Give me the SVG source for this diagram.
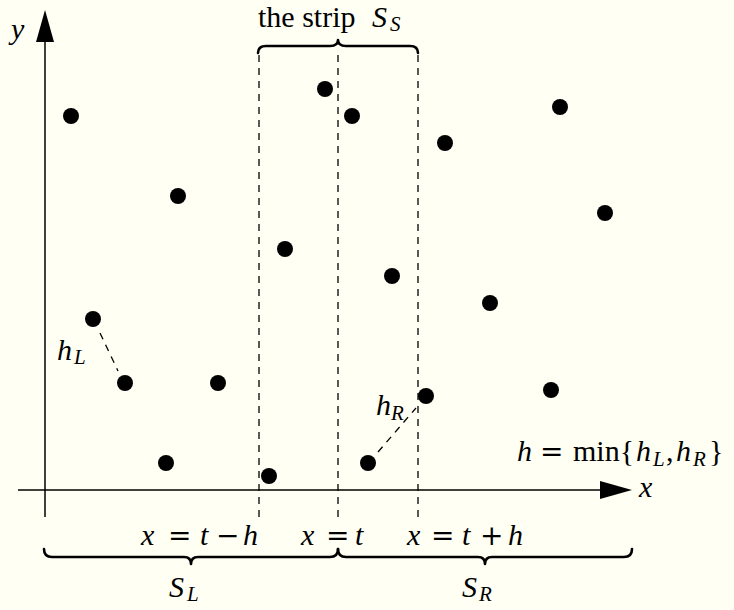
<svg xmlns="http://www.w3.org/2000/svg" width="734" height="610" viewBox="0 0 734 610">
<defs>
<style>
.axis{stroke:#000;stroke-width:1.5;fill:none}
.dash{stroke:#000;stroke-width:1.3;fill:none;stroke-dasharray:7 6}
.brace{stroke:#000;stroke-width:2.6;fill:none;stroke-linecap:round;stroke-linejoin:round}
.pt{fill:#000}
text{font-family:"Liberation Serif","DejaVu Serif",serif;font-size:30px;fill:#000}
.m{font-style:italic}
.op{font-family:"DejaVu Serif","Liberation Serif",serif;font-size:28px;font-style:normal}
.sub{font-size:21px;font-style:italic}
</style>
</defs>
<rect x="0" y="0" width="734" height="610" fill="#FFFFF4"/>
<g id="axes">
<line class="axis" x1="45" y1="517" x2="45" y2="40"/>
<polygon points="45,10 36,42 54,42" fill="#000"/>
<line class="axis" x1="18" y1="490" x2="602" y2="490"/>
<polygon points="632,490 600,481 600,499" fill="#000"/>
<text id="ylabel" class="m" x="11" y="39">y</text>
<text id="xlabel" class="m" x="639" y="497">x</text>
</g>
<g id="connectors">
<line class="dash" x1="259" y1="55" x2="259" y2="517"/>
<line class="dash" x1="338" y1="55" x2="338" y2="517"/>
<line class="dash" x1="418" y1="55" x2="418" y2="517"/>
<line class="dash" x1="100" y1="333" x2="118" y2="371"/>
<line class="dash" x1="378" y1="452" x2="416" y2="408"/>
</g>
<g id="braces">
<path class="brace" d="M258,53 Q258,46 266,46 L330,46 Q338,46 338,40 Q338,46 346,46 L410,46 Q418,46 418,53"/>
<path class="brace" d="M44,549 Q44,557 52,557 L184,557 Q191,557 191,564 Q191,557 198,557 L330,557 Q338,557 338,549"/>
<path class="brace" d="M338,549 Q338,557 346,557 L478,557 Q485,557 485,564 Q485,557 492,557 L624,557 Q632,557 632,549"/>
</g>
<g id="points">
<circle class="pt" cx="71" cy="116" r="8"/>
<circle class="pt" cx="178" cy="196" r="8"/>
<circle class="pt" cx="93" cy="319" r="8"/>
<circle class="pt" cx="125" cy="383" r="8"/>
<circle class="pt" cx="218" cy="383" r="8"/>
<circle class="pt" cx="166" cy="463" r="8"/>
<circle class="pt" cx="269" cy="476" r="8"/>
<circle class="pt" cx="325" cy="89" r="8"/>
<circle class="pt" cx="352" cy="116" r="8"/>
<circle class="pt" cx="285" cy="249" r="8"/>
<circle class="pt" cx="392" cy="276" r="8"/>
<circle class="pt" cx="445" cy="143" r="8"/>
<circle class="pt" cx="560" cy="107" r="8"/>
<circle class="pt" cx="605" cy="213" r="8"/>
<circle class="pt" cx="490" cy="303" r="8"/>
<circle class="pt" cx="426" cy="396" r="8"/>
<circle class="pt" cx="551" cy="390" r="8"/>
<circle class="pt" cx="368" cy="463" r="8"/>
</g>
<g id="labels">
<text id="strip" x="258" y="27">the strip<tspan class="m" x="372">S</tspan><tspan class="sub" x="390" dy="4">S</tspan></text>
<text id="hL" x="57" y="360"><tspan class="m">h</tspan><tspan class="sub" x="74" dy="4">L</tspan></text>
<text id="hR" x="376" y="415"><tspan class="m">h</tspan><tspan class="sub" x="391" dy="5">R</tspan></text>
<text id="hmin" x="517" y="461"><tspan class="m">h</tspan><tspan class="op" x="540">=</tspan><tspan x="573">min{</tspan><tspan class="m" x="636">h</tspan><tspan class="sub" x="653" dy="5">L</tspan><tspan x="666" dy="-5">,</tspan><tspan class="m" x="676">h</tspan><tspan class="sub" x="693" dy="5">R</tspan><tspan x="709" dy="-5">}</tspan></text>
<text id="xtmh" x="141" y="545"><tspan class="m">x</tspan><tspan class="op" x="168">=</tspan><tspan class="m" x="200">t</tspan><tspan class="op" x="216">−</tspan><tspan class="m" x="243">h</tspan></text>
<text id="xt" x="301" y="545"><tspan class="m">x</tspan><tspan class="op" x="326">=</tspan><tspan class="m" x="355">t</tspan></text>
<text id="xtph" x="407" y="545"><tspan class="m">x</tspan><tspan class="op" x="431">=</tspan><tspan class="m" x="462">t</tspan><tspan class="op" x="480">+</tspan><tspan class="m" x="508">h</tspan></text>
<text id="SL" x="169" y="597"><tspan class="m">S</tspan><tspan class="sub" x="187" dy="4">L</tspan></text>
<text id="SR" x="462" y="597"><tspan class="m">S</tspan><tspan class="sub" x="479" dy="4">R</tspan></text>
</g>
</svg>
